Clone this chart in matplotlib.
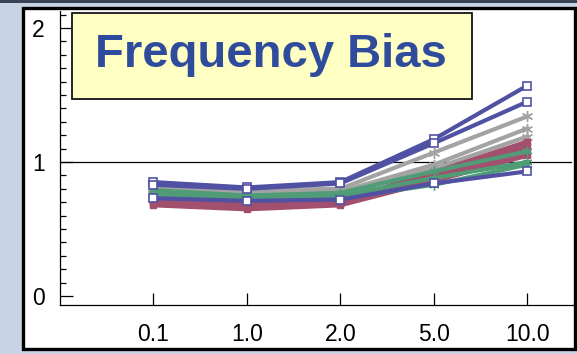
import matplotlib
matplotlib.use("Agg")
import matplotlib.pyplot as plt
from matplotlib.patches import Rectangle
from matplotlib.ticker import MultipleLocator

plt.rcParams['font.family'] = ['Liberation Sans', 'DejaVu Sans']

# ---- data ----
thresholds = ["0.1", "1.0", "2.0", "5.0", "10.0"]
blue_series = [
    [0.85, 0.81, 0.85, 1.17, 1.57],
    [0.83, 0.80, 0.84, 1.14, 1.45],
    [0.73, 0.71, 0.72, 0.84, 0.93],
]
gray_series = [
    [0.80, 0.79, 0.80, 1.07, 1.34],
    [0.78, 0.77, 0.78, 0.98, 1.25],
    [0.76, 0.75, 0.76, 0.95, 1.19],
]
maroon_series = [
    [0.71, 0.68, 0.71, 0.92, 1.15],
    [0.70, 0.67, 0.70, 0.90, 1.12],
    [0.69, 0.66, 0.69, 0.88, 1.09],
    [0.68, 0.65, 0.68, 0.86, 1.05],
]
green_series = [
    [0.79, 0.75, 0.77, 0.93, 1.08],
    [0.77, 0.73, 0.75, 0.88, 1.00],
    [0.75, 0.72, 0.73, 0.83, 0.98],
]
title = "Frequency Bias"
y_ticks = [0, 1, 2]

# ---- figure ----
W, H = 577, 354
DPI = 100
fig = plt.figure(figsize=(W / DPI, H / DPI), dpi=DPI)
fig.patch.set_facecolor('#c9d3e6')

def fx(px):
    return px / W

def fy(py):
    return 1 - py / H

# dark top band
fig.patches.append(Rectangle((0, fy(2.5)), 1, 2.5 / H, transform=fig.transFigure,
                             facecolor='#3a4256', edgecolor='none', zorder=-20))
# white panel with black border
fig.patches.append(Rectangle((fx(22.5), fy(349)), fx(575 - 22.5), (349 - 8) / H,
                             transform=fig.transFigure, facecolor='white',
                             edgecolor='black', linewidth=2.4, zorder=-10))

ax = fig.add_axes([fx(60), fy(305), fx(573 - 60), (305 - 11) / H])
ax.set_facecolor('none')

x = list(range(1, len(thresholds) + 1))

c_blue = '#5151a3'
c_gray = '#a3a3a3'
c_maroon = '#a3506f'
c_green = '#4f9c76'
lw = 3.0

for s in gray_series:
    ax.plot(x, s, color=c_gray, lw=lw, marker=(6, 2, 0), ms=8, mew=1.0, zorder=3)
for s in maroon_series:
    ax.plot(x, s, color=c_maroon, lw=lw + 0.6, marker='s', ms=5, mfc=c_maroon, mec=c_maroon, zorder=3)
for s in green_series:
    ax.plot(x, s, color=c_green, lw=lw, marker=(6, 2, 0), ms=7, mew=1.0, zorder=4)
for s in blue_series:
    ax.plot(x, s, color=c_blue, lw=lw, marker='s', ms=6, mfc='white', mec=c_blue, mew=1.2, zorder=5)

ax.axhline(1, color='black', lw=0.9, zorder=2, clip_on=False, xmax=(571 - 60) / (573 - 60))

ax.set_xlim(0, 5.49)
ax.set_ylim(-0.067, 2.127)
ax.set_xticks(x)
ax.set_xticklabels(thresholds)
ax.set_yticks(y_ticks)
ax.set_yticklabels([str(v) for v in y_ticks])
ax.yaxis.set_minor_locator(MultipleLocator(0.1))

for side in ['top', 'right']:
    ax.spines[side].set_visible(False)
for side in ['left', 'bottom']:
    ax.spines[side].set_linewidth(0.9)
    ax.spines[side].set_color('black')

ax.tick_params(axis='y', which='major', direction='in', length=9, width=0.9,
               labelsize=16.5, pad=11)
ax.tick_params(axis='y', which='minor', direction='in', length=4.5, width=0.9)
ax.tick_params(axis='x', which='major', direction='in', length=9, width=0.9,
               labelsize=16.5, pad=13)

# title box
fig.patches.append(Rectangle((fx(72), fy(98.5)), fx(472 - 72), (98.5 - 13) / H,
                             transform=fig.transFigure, facecolor='#ffffc4',
                             edgecolor='black', linewidth=1.2, zorder=10))
fig.text(fx(271), fy(55), title, ha='center', va='center', fontsize=34,
         fontweight='bold', color='#2f4c9c', zorder=11)

fig.savefig('out.png', dpi=DPI, facecolor=fig.get_facecolor())
